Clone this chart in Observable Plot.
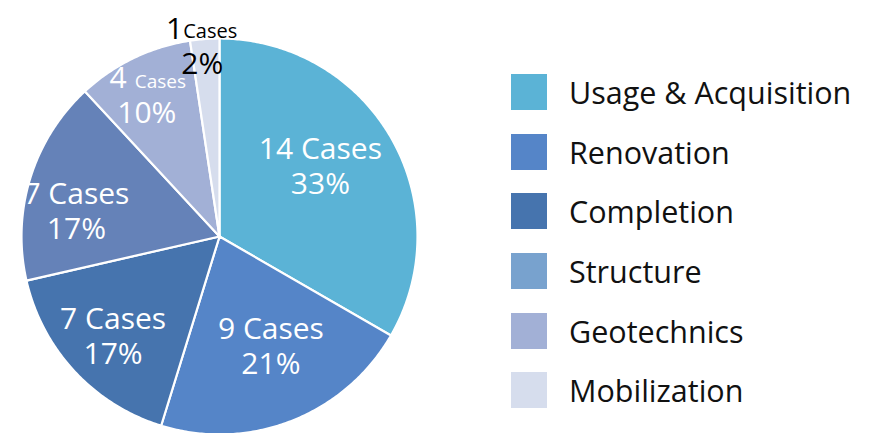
<!DOCTYPE html>
<html>
<head>
<meta charset="utf-8">
<script src="https://cdn.jsdelivr.net/npm/d3@7"></script>
<script src="https://cdn.jsdelivr.net/npm/@observablehq/plot@0.6"></script>
<style>
  html, body { margin: 0; padding: 0; background: #fff; }
  #wrap { position: relative; width: 877px; height: 433px; overflow: hidden; font-family: "Open Sans", "Noto Sans", sans-serif; }
  #legend { position: absolute; left: 511px; top: 74px; }
  .row { display: flex; align-items: center; height: 36px; margin-bottom: 23.7px; }
  .sw { width: 36px; height: 36px; margin-right: 22px; flex: none; }
  .lb { font-size: 30.5px; color: #111; white-space: nowrap; line-height: 36px; }
</style>
</head>
<body>
<div id="wrap"><div id="chart"></div><div id="legend"></div></div>
<script>
// Data
const categories = ["Usage & Acquisition", "Renovation", "Completion", "Structure", "Geotechnics", "Mobilization"];
const cases = [14, 9, 7, 7, 4, 1];

// Styles / layout (not data)
const sliceColors = ["#5BB3D6", "#5585C8", "#4674AE", "#6582B8", "#A2B0D6", "#D6DDED"];
const legendColors = ["#5BB3D6", "#5585C8", "#4674AE", "#78A2CE", "#A2B0D6", "#D6DDED"];
const labelRadius = [0.6, 0.6, 0.74, 0.73, 0.8, 0.965];
const labelNudge = [[-2, -10], [8, 0], [1, 1], [-5, 18], [-4, 2], [-3, 0]];

const total = d3.sum(cases);
const pct = cases.map(v => Math.round(v / total * 100) + "%");
const arcs = d3.pie().sort(null).value(d => d)(cases);

function slicePoints(a) {
  const n = Math.max(2, Math.ceil((a.endAngle - a.startAngle) / 0.01));
  const pts = [{x: 0, y: 0}];
  for (let i = 0; i <= n; i++) {
    const t = a.startAngle + (a.endAngle - a.startAngle) * i / n;
    pts.push({x: Math.sin(t), y: Math.cos(t)});
  }
  pts.push({x: 0, y: 0});
  return pts;
}

const labels = arcs.map((a, i) => {
  const m = (a.startAngle + a.endAngle) / 2;
  const r = labelRadius[i];
  return {i, x: Math.sin(m) * r, y: Math.cos(m) * r, count: cases[i], pct: pct[i]};
});

const marks = [];
arcs.forEach((a, i) => {
  marks.push(Plot.line(slicePoints(a), {x: "x", y: "y", fill: sliceColors[i], stroke: "white", strokeWidth: 2.2, curve: "linear"}));
});
labels.forEach(d => {
  const [nx, ny] = labelNudge[d.i];
  if (d.i < 4) {
    marks.push(Plot.text([d], {x: "x", y: "y", text: d => `${d.count} Cases`, fill: "white", fontSize: 30, dx: nx, dy: ny - 17.5}));
    marks.push(Plot.text([d], {x: "x", y: "y", text: "pct", fill: "white", fontSize: 30, dx: nx, dy: ny + 17.5}));
  } else {
    const fill = d.i === 5 ? "#000" : "#fff";
    const numEnd = d.i === 5 ? -19 : -20;
    const casesStart = d.i === 5 ? -19 : -12;
    const casesSize = d.i === 5 ? 20 : 19;
    marks.push(Plot.text([d], {x: "x", y: "y", text: d => `${d.count}`, fill, fontSize: 30, textAnchor: "end", dx: nx + numEnd, dy: ny - 17}));
    marks.push(Plot.text([d], {x: "x", y: "y", text: () => "Cases", fill, fontSize: casesSize, textAnchor: "start", dx: nx + casesStart, dy: ny - 14}));
    marks.push(Plot.text([d], {x: "x", y: "y", text: "pct", fill, fontSize: 30, dx: nx, dy: ny + 18}));
  }
});

const chart = Plot.plot({
  width: 877,
  height: 433,
  x: {domain: [-1, 1], range: [21, 417], axis: null},
  y: {domain: [-1, 1], range: [434, 38], axis: null},
  style: {background: "transparent", overflow: "visible", fontFamily: "Open Sans"},
  marks
});
document.getElementById("chart").appendChild(chart);

const legend = document.getElementById("legend");
categories.forEach((c, i) => {
  const row = document.createElement("div");
  row.className = "row";
  row.innerHTML = `<div class="sw" style="background:${legendColors[i]}"></div><div class="lb">${c}</div>`;
  legend.appendChild(row);
});
</script>
</body>
</html>
